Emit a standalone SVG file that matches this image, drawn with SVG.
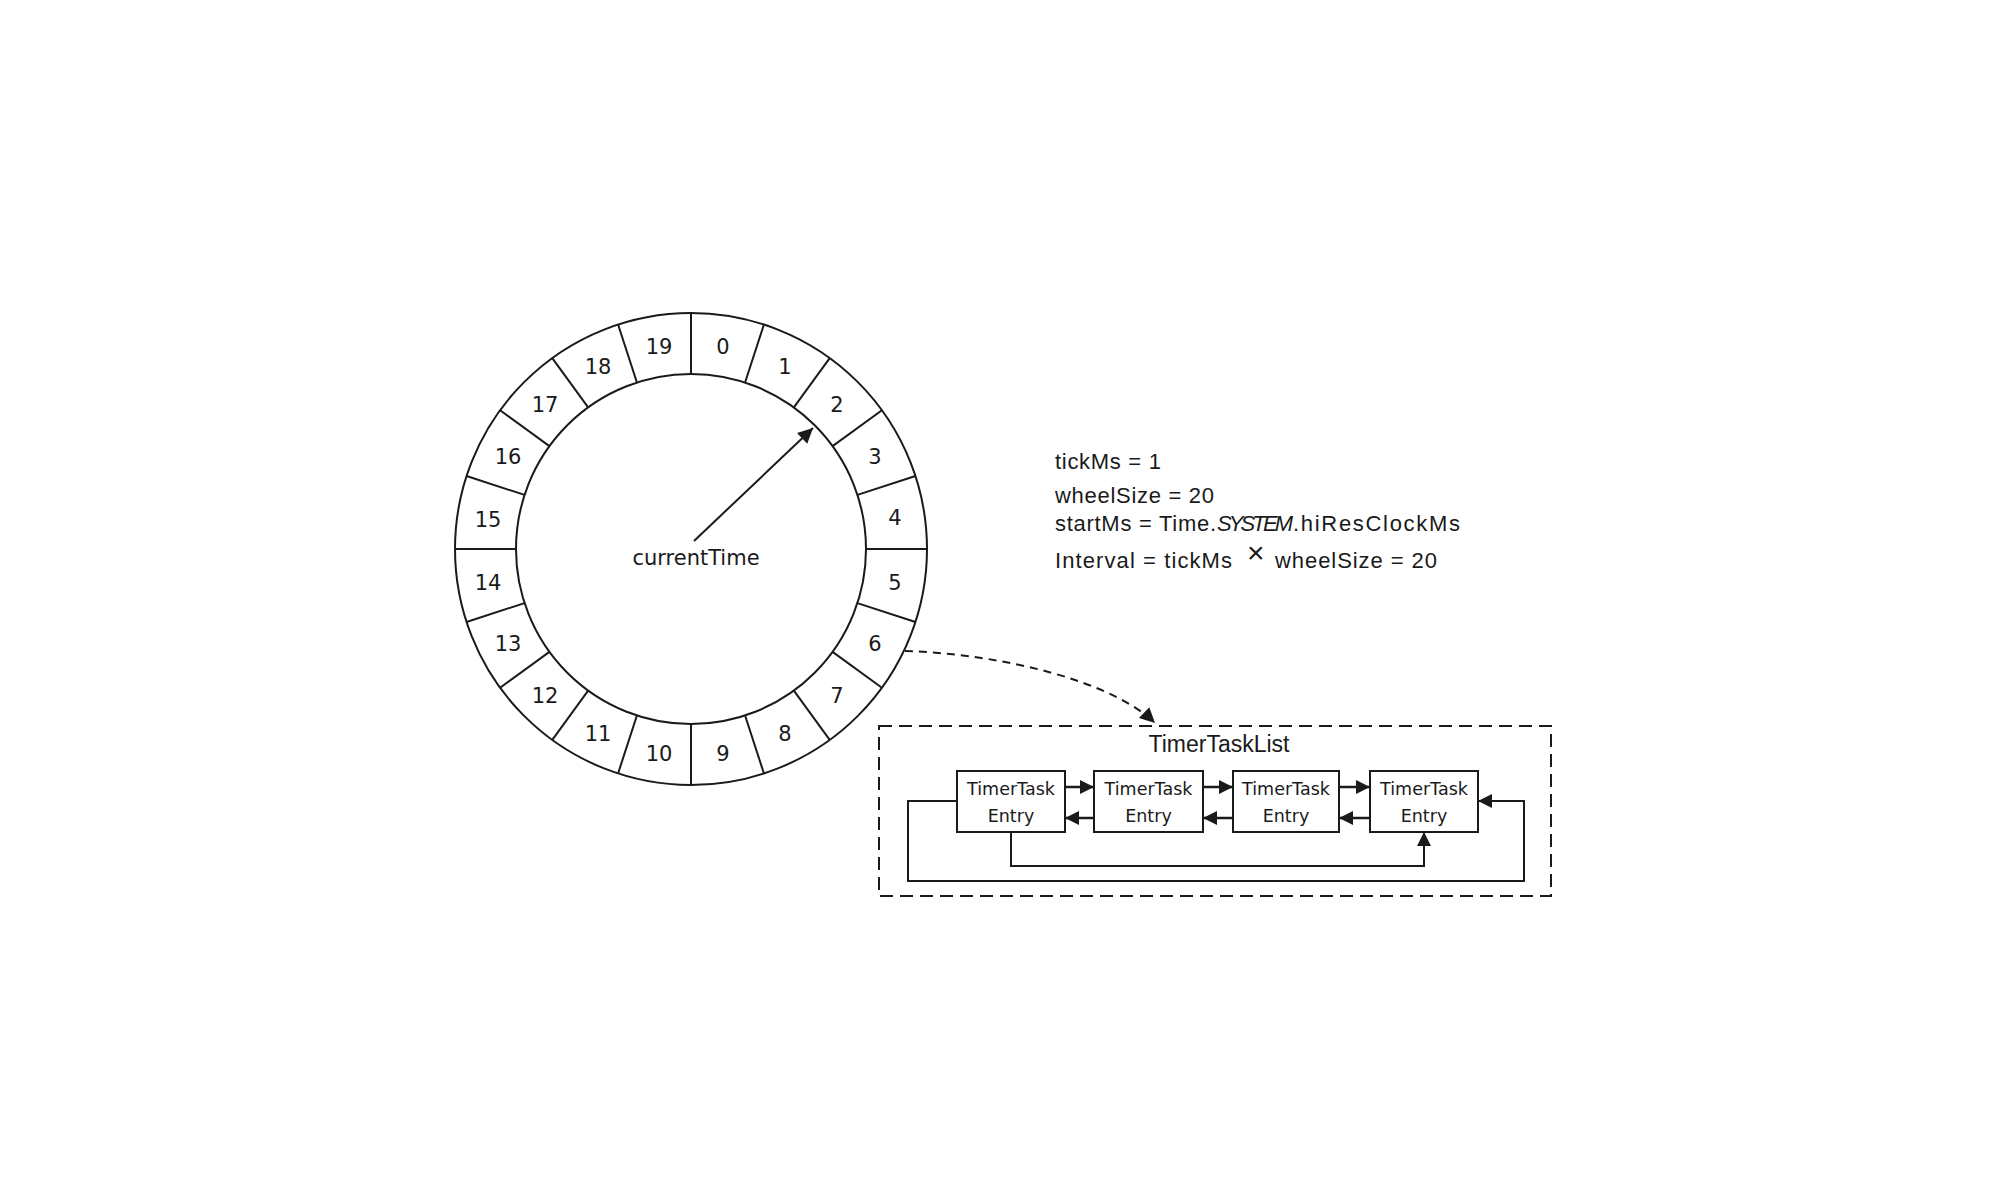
<svg xmlns="http://www.w3.org/2000/svg" width="2000" height="1200" viewBox="0 0 2000 1200">
<defs>
<style>
.ln{stroke:#1a1a1a;stroke-width:2;fill:none}
.num{font-family:"DejaVu Sans",sans-serif;font-size:21px;fill:#1a1a1a;text-anchor:middle;dominant-baseline:central}
.ent{font-family:"DejaVu Sans",sans-serif;font-size:17.5px;fill:#1a1a1a;text-anchor:middle}
.prm{font-family:"Liberation Sans",Arial,sans-serif;font-size:22px;fill:#1a1a1a}
.box{fill:#fff;stroke:#1a1a1a;stroke-width:2}
</style>
<marker id="ah" viewBox="0 0 10 10" refX="10" refY="5" markerWidth="16" markerHeight="14" markerUnits="userSpaceOnUse" orient="auto">
<path d="M0,0 L10,5 L0,10 Z" fill="#1a1a1a"/>
</marker>
<marker id="ahb" viewBox="0 0 10 10" refX="10" refY="5" markerWidth="19" markerHeight="15" markerUnits="userSpaceOnUse" orient="auto">
<path d="M0,0 L10,5 L0,10 Z" fill="#1a1a1a"/>
</marker>
</defs>
<rect width="2000" height="1200" fill="#fff"/>

<g id="wheel">
<circle class="ln" cx="691" cy="549" r="236"/>
<circle class="ln" cx="691" cy="549" r="175"/>
<g class="ln">
<line x1="691" y1="374" x2="691" y2="313"/>
<line x1="691" y1="374" x2="691" y2="313" transform="rotate(18 691 549)"/>
<line x1="691" y1="374" x2="691" y2="313" transform="rotate(36 691 549)"/>
<line x1="691" y1="374" x2="691" y2="313" transform="rotate(54 691 549)"/>
<line x1="691" y1="374" x2="691" y2="313" transform="rotate(72 691 549)"/>
<line x1="691" y1="374" x2="691" y2="313" transform="rotate(90 691 549)"/>
<line x1="691" y1="374" x2="691" y2="313" transform="rotate(108 691 549)"/>
<line x1="691" y1="374" x2="691" y2="313" transform="rotate(126 691 549)"/>
<line x1="691" y1="374" x2="691" y2="313" transform="rotate(144 691 549)"/>
<line x1="691" y1="374" x2="691" y2="313" transform="rotate(162 691 549)"/>
<line x1="691" y1="374" x2="691" y2="313" transform="rotate(180 691 549)"/>
<line x1="691" y1="374" x2="691" y2="313" transform="rotate(198 691 549)"/>
<line x1="691" y1="374" x2="691" y2="313" transform="rotate(216 691 549)"/>
<line x1="691" y1="374" x2="691" y2="313" transform="rotate(234 691 549)"/>
<line x1="691" y1="374" x2="691" y2="313" transform="rotate(252 691 549)"/>
<line x1="691" y1="374" x2="691" y2="313" transform="rotate(270 691 549)"/>
<line x1="691" y1="374" x2="691" y2="313" transform="rotate(288 691 549)"/>
<line x1="691" y1="374" x2="691" y2="313" transform="rotate(306 691 549)"/>
<line x1="691" y1="374" x2="691" y2="313" transform="rotate(324 691 549)"/>
<line x1="691" y1="374" x2="691" y2="313" transform="rotate(342 691 549)"/>
</g>
<text class="num" x="723" y="347">0</text>
<text class="num" x="785" y="367">1</text>
<text class="num" x="837" y="405">2</text>
<text class="num" x="875" y="457">3</text>
<text class="num" x="895" y="518">4</text>
<text class="num" x="895" y="583">5</text>
<text class="num" x="875" y="644">6</text>
<text class="num" x="837" y="696">7</text>
<text class="num" x="785" y="734">8</text>
<text class="num" x="723" y="754">9</text>
<text class="num" x="659" y="754">10</text>
<text class="num" x="598" y="734">11</text>
<text class="num" x="545" y="696">12</text>
<text class="num" x="508" y="644">13</text>
<text class="num" x="488" y="583">14</text>
<text class="num" x="488" y="520">15</text>
<text class="num" x="508" y="457">16</text>
<text class="num" x="545" y="405">17</text>
<text class="num" x="598" y="367">18</text>
<text class="num" x="659" y="347">19</text>
<text class="num" x="696" y="558">currentTime</text>
</g>

<g id="params">
<text class="prm" x="1055" y="469" textLength="106" lengthAdjust="spacing">tickMs = 1</text>
<text class="prm" x="1055" y="503" textLength="159" lengthAdjust="spacing">wheelSize = 20</text>
<text class="prm" x="1055" y="531"><tspan textLength="161" lengthAdjust="spacing">startMs = Time.</tspan><tspan x="1217" font-style="italic" textLength="76" lengthAdjust="spacing">SYSTEM</tspan><tspan x="1293" textLength="167" lengthAdjust="spacing">.hiResClockMs</tspan></text>
<text class="prm" x="1055" y="568"><tspan textLength="177" lengthAdjust="spacing">Interval = tickMs</tspan><tspan x="1247" y="563" font-size="30" font-weight="300">×</tspan><tspan x="1275" y="568" textLength="162" lengthAdjust="spacing">wheelSize = 20</tspan></text>
</g>

<g id="timerTaskList">
<rect x="879" y="726" width="672" height="170" fill="none" stroke="#1a1a1a" stroke-width="2" stroke-dasharray="13,7"/>
<text x="1219" y="752" font-family="Liberation Sans, Arial, sans-serif" font-size="23" fill="#1a1a1a" text-anchor="middle">TimerTaskList</text>
</g>

<g id="entry1">
<rect class="box" x="957" y="771" width="108" height="61"/>
<text class="ent" x="1011" y="795">TimerTask</text>
<text class="ent" x="1011" y="822">Entry</text>
</g>
<g id="entry2">
<rect class="box" x="1094" y="771" width="109" height="61"/>
<text class="ent" x="1148.5" y="795">TimerTask</text>
<text class="ent" x="1148.5" y="822">Entry</text>
</g>
<g id="entry3">
<rect class="box" x="1233" y="771" width="106" height="61"/>
<text class="ent" x="1286" y="795">TimerTask</text>
<text class="ent" x="1286" y="822">Entry</text>
</g>
<g id="entry4">
<rect class="box" x="1370" y="771" width="108" height="61"/>
<text class="ent" x="1424" y="795">TimerTask</text>
<text class="ent" x="1424" y="822">Entry</text>
</g>

<g id="connectors" class="ln">
<line x1="694" y1="541" x2="813" y2="428" marker-end="url(#ahb)"/>
<path d="M905,651 C1000,654 1110,680 1155,723" stroke-dasharray="8,6" marker-end="url(#ahb)"/>
<line x1="1065" y1="787" x2="1094" y2="787" stroke-width="2.5" marker-end="url(#ah)"/>
<line x1="1094" y1="818" x2="1065" y2="818" stroke-width="2.5" marker-end="url(#ah)"/>
<line x1="1203" y1="787" x2="1233" y2="787" stroke-width="2.5" marker-end="url(#ah)"/>
<line x1="1233" y1="818" x2="1203" y2="818" stroke-width="2.5" marker-end="url(#ah)"/>
<line x1="1339" y1="787" x2="1370" y2="787" stroke-width="2.5" marker-end="url(#ah)"/>
<line x1="1370" y1="818" x2="1339" y2="818" stroke-width="2.5" marker-end="url(#ah)"/>
<path d="M957,801 H908 V881 H1524 V801 H1478" marker-end="url(#ah)"/>
<path d="M1011,832 V866 H1424 V832" marker-end="url(#ah)"/>
</g>
</svg>
